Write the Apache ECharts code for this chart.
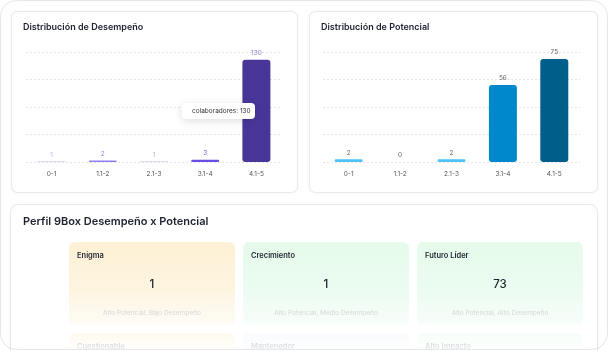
<!DOCTYPE html>
<html>
<head>
<meta charset="utf-8">
<script src="https://cdn.jsdelivr.net/npm/echarts@6/dist/echarts.min.js"></script>
<style>
  html, body { margin: 0; padding: 0; background: #fff; }
  #main { width: 608px; height: 351px; }
</style>
</head>
<body>
<div id="main"></div>
<script>
// data
const rangos = ['0-1', '1.1-2', '2.1-3', '3.1-4', '4.1-5']
const desempeno = [1, 2, 1, 3, 130]
const potencial = [2, 0, 2, 56, 75]

const boxColumns = ['Bajo Desempeño', 'Medio Desempeño', 'Alto Desempeño']
const boxRows = ['Alto Potencial', 'Medio Potencial']
const boxNames = [
  ['Enigma', 'Crecimiento', 'Futuro Líder'],
  ['Cuestionable', 'Mantenedor', 'Alto Impacto']
]
const boxValues = [
  [1, 1, 73],
  [null, null, null]
]

// styles
const desempenoColors = ['#d4cef8', '#8f80f0', '#d4cef8', '#6a4ee3', '#4a3699']
const desempenoLabelColors = ['#b8aff3', '#8f80f0', '#b8aff3', '#7a63e6', '#8b82cf']
const potencialColors = ['#4cc4f6', '#4cc4f6', '#4cc4f6', '#0088cc', '#005e8b']
const boxFills = [
  [['#fdf0d4', '#fef8ea'], ['#e5fbeb', '#f0fcf4'], ['#e5fbeb', '#f0fcf4']],
  [['#fdf0d4', '#fef8ea'], ['#edf3fd', '#f5f8fe'], ['#e5fbeb', '#f0fcf4']]
]

const font = 'Inter'
const chart = echarts.init(document.getElementById('main'))

function barData(values, colors, labelColors) {
  return values.map((v, i) => ({
    value: v,
    itemStyle: { color: colors[i] },
    label: { color: labelColors ? labelColors[i] : '#666' }
  }))
}

const boxData = []
boxRows.forEach((row, r) => {
  boxColumns.forEach((col, c) => {
    boxData.push([c, r, boxValues[r][c], boxNames[r][c], row + ', ' + col])
  })
})

function renderBox(params, api) {
  const c = api.value(0)
  const r = api.value(1)
  const center = api.coord([c, r])
  const size = api.size([1, 1])
  const x = center[0] - size[0] / 2
  const y = center[1] - size[1] / 2
  const w = size[0] - 8
  const h = size[1] - 8
  const fill = boxFills[r][c]
  const item = boxData[params.dataIndex]
  const children = [
    {
      type: 'rect',
      shape: { x: x, y: y, width: w, height: h, r: 6 },
      style: {
        fill: new echarts.graphic.LinearGradient(0, 0, 0, 1, [
          { offset: 0, color: fill[0] },
          { offset: 1, color: fill[1] }
        ])
      }
    },
    {
      type: 'text',
      style: {
        x: x + 8, y: y + 14, text: item[3],
        fill: '#1d2230', font: '600 7.5px ' + font,
        verticalAlign: 'middle'
      }
    },
    {
      type: 'text',
      style: {
        x: x + w / 2, y: y + 71, text: item[4],
        fill: '#c2c2c2', font: '6.5px ' + font,
        align: 'center', verticalAlign: 'middle'
      }
    }
  ]
  if (item[2] != null) {
    children.push({
      type: 'text',
      style: {
        x: x + w / 2, y: y + 43, text: String(item[2]),
        fill: '#222630', font: '500 11.5px ' + font,
        align: 'center', verticalAlign: 'middle'
      }
    })
  }
  return { type: 'group', children: children }
}

const categoryAxis = (gridIndex) => ({
  type: 'category',
  gridIndex: gridIndex,
  data: rangos,
  axisLine: { show: false },
  axisTick: { show: false },
  axisLabel: { fontSize: 6.5, color: '#555', margin: 9, fontFamily: font }
})

const valueAxis = (gridIndex, max, interval) => ({
  type: 'value',
  gridIndex: gridIndex,
  min: 0,
  max: max,
  interval: interval,
  axisLabel: { show: false },
  axisLine: { show: false },
  axisTick: { show: false },
  splitLine: { lineStyle: { color: '#e4e4e8', type: [2, 2] } }
})

const cardStyle = {
  fill: '#fff',
  stroke: '#e8e9ee',
  lineWidth: 1,
  shadowBlur: 4,
  shadowColor: 'rgba(0,0,0,0.04)'
}

// 9box rows are 91px tall; the grid is cut at the bottom of the page
const boxGridHeight = 109
const rowsVisible = boxGridHeight / 91

chart.setOption({
  animation: false,
  backgroundColor: '#fff',
  textStyle: { fontFamily: font },
  title: [
    { text: 'Distribución de Desempeño', left: 23, top: 23, padding: 0,
      textStyle: { fontSize: 9, fontWeight: 600, color: '#1d2230', fontFamily: font } },
    { text: 'Distribución de Potencial', left: 321, top: 23, padding: 0,
      textStyle: { fontSize: 9, fontWeight: 600, color: '#1d2230', fontFamily: font } },
    { text: 'Perfil 9Box Desempeño x Potencial', left: 23, top: 216, padding: 0,
      textStyle: { fontSize: 11, fontWeight: 600, color: '#1d2230', fontFamily: font } }
  ],
  tooltip: {
    trigger: 'item',
    triggerOn: 'none',
    alwaysShowContent: true,
    position: [182, 103],
    formatter: p => 'colaboradores: ' + p.value,
    backgroundColor: '#fff',
    borderWidth: 0,
    padding: [3, 4, 3, 10],
    textStyle: { fontSize: 6.5, color: '#333', fontFamily: font },
    extraCssText: 'box-shadow:0 2px 8px rgba(0,0,0,0.13);border-radius:4px;'
  },
  graphic: [
    { type: 'rect', z: -30, silent: true,
      shape: { x: 1, y: 1, width: 606, height: 349, r: 16 },
      style: { fill: '#fff' } },
    { type: 'rect', z: -20, silent: true,
      shape: { x: 11.5, y: 11.5, width: 286, height: 181, r: 6 }, style: cardStyle },
    { type: 'rect', z: -20, silent: true,
      shape: { x: 309.5, y: 11.5, width: 288, height: 181, r: 6 }, style: cardStyle },
    { type: 'rect', z: -20, silent: true,
      shape: { x: 10.5, y: 204.5, width: 587, height: 170, r: 8 }, style: cardStyle },
    { type: 'rect', z: 50, silent: true,
      shape: { x: 11, y: 290, width: 586, height: 61 },
      style: {
        fill: new echarts.graphic.LinearGradient(0, 0, 0, 1, [
          { offset: 0, color: 'rgba(255,255,255,0)' },
          { offset: 1, color: 'rgba(255,255,255,0.93)' }
        ])
      } },
    { type: 'rect', z: 60, silent: true,
      shape: { x: 0.5, y: 0.5, width: 607, height: 349, r: 16 },
      style: { fill: 'none', stroke: '#e6e7ec', lineWidth: 1 } }
  ],
  grid: [
    { left: 26, top: 52, width: 256, height: 110 },
    { left: 323, top: 52, width: 257, height: 110 },
    { left: 69, top: 242, width: 522, height: boxGridHeight }
  ],
  xAxis: [
    categoryAxis(0),
    categoryAxis(1),
    { type: 'category', gridIndex: 2, data: boxColumns, show: false }
  ],
  yAxis: [
    valueAxis(0, 140, 35),
    valueAxis(1, 80, 20),
    { type: 'value', gridIndex: 2, inverse: true, show: false,
      min: -0.5, max: rowsVisible - 0.5 }
  ],
  series: [
    {
      type: 'bar',
      xAxisIndex: 0,
      yAxisIndex: 0,
      barWidth: 28,
      data: barData(desempeno, desempenoColors, desempenoLabelColors),
      itemStyle: { borderRadius: 3 },
      label: { show: true, position: 'top', distance: 3, fontSize: 6.5, fontFamily: font }
    },
    {
      type: 'bar',
      xAxisIndex: 1,
      yAxisIndex: 1,
      barWidth: 28,
      data: barData(potencial, potencialColors),
      itemStyle: { borderRadius: 3 },
      label: { show: true, position: 'top', distance: 3, fontSize: 6.5, fontFamily: font }
    },
    {
      type: 'custom',
      xAxisIndex: 2,
      yAxisIndex: 2,
      clip: false,
      silent: true,
      tooltip: { show: false },
      renderItem: renderBox,
      data: boxData
    }
  ]
})

chart.dispatchAction({ type: 'showTip', seriesIndex: 0, dataIndex: 4 })
window.addEventListener('resize', () => chart.resize())
</script>
</body>
</html>
